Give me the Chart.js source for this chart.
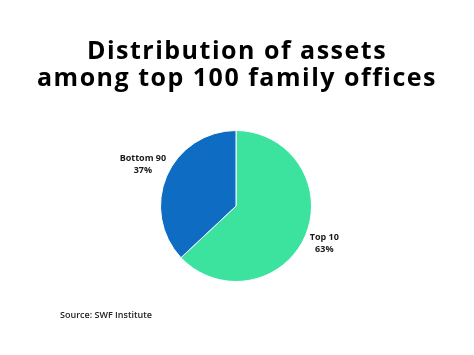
<!DOCTYPE html>
<html>
<head>
<meta charset="utf-8">
<script src="https://cdn.jsdelivr.net/npm/chart.js@4"></script>
<style>
  html, body { margin: 0; padding: 0; background: #fff; }
  #wrap { width: 474px; height: 355px; position: relative; }
</style>
</head>
<body>
<div id="wrap"><canvas id="pieChart"></canvas></div>
<script>
// 데이터
const categories = ["Top 10", "Bottom 90"];
const shares = [63, 37];
const sliceColors = ["#3be39f", "#0f6cc3"];
const titleLines = ["Distribution of assets", "among top 100 family offices"];
const sourceText = "Source: SWF Institute";

// 제목, 조각 라벨, 출처 그리기
const textPlugin = {
    id: "chartTexts",
    afterDraw(chart) {
        const { ctx, width } = chart;
        const meta = chart.getDatasetMeta(0);
        ctx.save();

        // 제목 (두 줄) - 원본 폰트가 넓어서 자간을 조금 벌림
        ctx.textAlign = "center";
        ctx.textBaseline = "alphabetic";
        ctx.fillStyle = "#000";
        ctx.font = "bold 25px 'Open Sans', sans-serif";
        ctx.letterSpacing = "1.5px";
        ctx.fillText(titleLines[0], width / 2, 59);
        ctx.fillText(titleLines[1], width / 2, 86);
        ctx.letterSpacing = "0px";

        // 조각 라벨 (이름 + 퍼센트)
        ctx.textBaseline = "middle";
        ctx.fillStyle = "#1a1a1a";
        ctx.font = "bold 9px 'Open Sans', sans-serif";
        meta.data.forEach((arc, i) => {
            const mid = (arc.startAngle + arc.endAngle) / 2;
            const tw = ctx.measureText(categories[i]).width;
            const r = arc.outerRadius + 12 + tw * 0.3;
            const x = arc.x + Math.cos(mid) * r;
            const y = arc.y + Math.sin(mid) * r;
            ctx.fillText(categories[i], x, y - 7);
            ctx.fillText(shares[i] + "%", x, y + 5);
        });

        // 출처
        ctx.textAlign = "left";
        ctx.font = "600 9px 'Open Sans', sans-serif";
        ctx.fillStyle = "#222";
        ctx.fillText(sourceText, 60, 315);
        ctx.restore();
    }
};

new Chart(document.getElementById("pieChart"), {
    type: "pie",
    data: {
        labels: categories,
        datasets: [{
            data: shares,
            backgroundColor: sliceColors,
            borderColor: "#ffffff",
            borderWidth: 1
        }]
    },
    options: {
        responsive: true,
        maintainAspectRatio: false,
        animation: false,
        layout: { padding: { left: 160, right: 162, top: 130, bottom: 73 } },
        plugins: {
            legend: { display: false },
            tooltip: { enabled: false },
            title: { display: false }
        }
    },
    plugins: [textPlugin]
});
</script>
</body>
</html>
